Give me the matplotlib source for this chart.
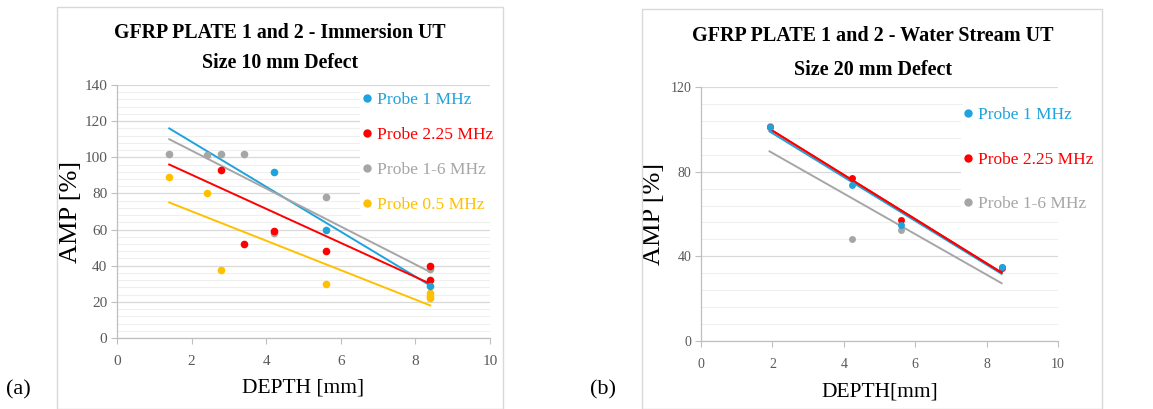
import matplotlib
matplotlib.use("Agg")
import matplotlib.pyplot as plt
import numpy as np
from matplotlib.patches import Rectangle
from matplotlib.lines import Line2D
from matplotlib.ticker import MultipleLocator

plt.rcParams["font.family"] = ["Liberation Serif", "DejaVu Serif"]

C_BLUE = "#1ea3dc"
C_RED = "#ff0000"
C_GRAY = "#a6a6a6"
C_GOLD = "#ffc000"

# ---- panel (a): immersion UT, 10 mm defect ----
a_labels = ["Probe 1 MHz", "Probe 2.25 MHz", "Probe 1-6 MHz", "Probe 0.5 MHz"]
a_colors = [C_BLUE, C_RED, C_GRAY, C_GOLD]
a_x = [
    [4.2, 5.6, 8.4],
    [2.8, 3.4, 4.2, 5.6, 8.4, 8.4],
    [1.4, 2.4, 2.8, 3.4, 4.2, 5.6, 8.4],
    [1.4, 2.4, 2.8, 5.6, 8.4, 8.4, 8.4],
]
a_y = [
    [92, 60, 29],
    [93, 52, 59, 48, 40, 32],
    [102, 101, 102, 102, 58, 78, 38],
    [89, 80, 37.5, 30, 25, 23.5, 22],
]
# trend lines: value at x start and x end
a_trend_x = [1.4, 8.4]
a_trend_y = [[116, 29], [96, 30], [110, 36.5], [75, 18]]

# ---- panel (b): water stream UT, 20 mm defect ----
b_labels = ["Probe 1 MHz", "Probe 2.25 MHz", "Probe 1-6 MHz"]
b_colors = [C_BLUE, C_RED, C_GRAY]
b_x = [
    [1.92, 4.22, 5.6, 8.42],
    [1.92, 4.22, 5.6, 8.42],
    [1.92, 4.22, 5.6, 8.42],
]
b_y = [
    [101, 73.5, 55, 35],
    [101, 77, 57, 34.5],
    [101.5, 48, 52.5, 35],
]
b_trend_x = [1.92, 8.42]
b_trend_y = [[99, 31.7], [100.2, 32.3], [89.6, 27.3]]

W, H = 1153, 409
fig = plt.figure(figsize=(W / 100, H / 100), dpi=100)


def fx(px):
    return px / W


def fy(py):
    return 1 - py / H


# outer boxes
for x0, x1, y0 in [(57, 503, 7), (642, 1102, 9)]:
    fig.patches.append(Rectangle((fx(x0), 0), fx(x1) - fx(x0), fy(y0),
                                 transform=fig.transFigure, fill=False,
                                 edgecolor="#d9d9d9", lw=1.0))


def style_axes(ax, ymax, ymajor, yminor, tick_fs, ypad):
    ax.set_xlim(0, 10)
    ax.set_ylim(0, ymax)
    ax.xaxis.set_major_locator(MultipleLocator(2))
    ax.yaxis.set_major_locator(MultipleLocator(ymajor))
    ax.yaxis.set_minor_locator(MultipleLocator(yminor))
    ax.grid(axis="y", which="major", color="#d9d9d9", lw=0.9)
    ax.grid(axis="y", which="minor", color="#efefef", lw=0.8)
    ax.set_axisbelow(True)
    for s in ["top", "right"]:
        ax.spines[s].set_visible(False)
    for s in ["left", "bottom"]:
        ax.spines[s].set_color("#bfbfbf")
        ax.spines[s].set_linewidth(0.9)
    ax.tick_params(axis="both", which="major", colors="#bfbfbf",
                   labelcolor="#595959", labelsize=tick_fs, length=4, width=0.8)
    ax.tick_params(axis="y", which="minor", length=0)
    ax.tick_params(axis="y", pad=ypad)
    ax.tick_params(axis="x", pad=8)


def legend_for(ax, labels, colors, anchor, fs, spacing):
    handles = [Line2D([], [], ls="none", marker="o", ms=5, color=c) for c in colors]
    leg = ax.legend(handles, labels, loc="upper left",
                    bbox_to_anchor=anchor, bbox_transform=fig.transFigure,
                    frameon=True, facecolor="white", edgecolor="none",
                    fontsize=fs, handlelength=0.4, handletextpad=0.4,
                    labelspacing=spacing, borderpad=0.2, framealpha=1)
    for t, c in zip(leg.get_texts(), colors):
        t.set_color(c)
    return leg


# panel (a)
ax1 = fig.add_axes([fx(117), fy(338), fx(490) - fx(117), fy(85) - fy(338)])
style_axes(ax1, 140, 20, 4, 11, 3)
for xs, ys, ty, c in zip(a_x, a_y, a_trend_y, a_colors):
    ax1.plot(a_trend_x, ty, color=c, lw=1.4, zorder=2)
for xs, ys, c in zip(a_x[::-1], a_y[::-1], a_colors[::-1]):
    ax1.plot(xs, ys, ls="none", marker="o", ms=5.5, color=c, mec="none", zorder=3)
legend_for(ax1, a_labels, a_colors, (fx(351), fy(80)), 12.6, 1.06)
ax1.set_ylabel("AMP [%]", fontsize=19)
ax1.yaxis.set_label_coords(-0.095, 0.5)
ax1.set_xlabel("DEPTH [mm]", fontsize=15.5)
ax1.xaxis.set_label_coords(0.5, -0.16)
fig.text(fx(280), fy(33), "GFRP PLATE 1 and 2 - Immersion UT", ha="center",
         va="center", fontsize=14.3, fontweight="bold")
fig.text(fx(280), fy(63), "Size 10 mm Defect", ha="center",
         va="center", fontsize=14.3, fontweight="bold")
fig.text(fx(6), fy(390), "(a)", ha="left", va="center", fontsize=16)

# panel (b)
ax2 = fig.add_axes([fx(701), fy(341), fx(1058) - fx(701), fy(87) - fy(341)])
style_axes(ax2, 120, 40, 8, 10, 3)
for ty, c in zip(b_trend_y, b_colors):
    ax2.plot(b_trend_x, ty, color=c, lw=1.4, zorder=2)
ax2.plot(b_trend_x, b_trend_y[1], color=C_RED, lw=1.4, zorder=2)
for xs, ys, c in zip(b_x[::-1], b_y[::-1], b_colors[::-1]):
    ax2.plot(xs, ys, ls="none", marker="o", ms=5, color=c, mec="none", zorder=3)
legend_for(ax2, b_labels, b_colors, (fx(952), fy(95)), 12.5, 1.62)
ax2.set_ylabel("AMP [%]", fontsize=19)
ax2.yaxis.set_label_coords(-0.1, 0.5)
ax2.set_xlabel("DEPTH[mm]", fontsize=15.5)
ax2.xaxis.set_label_coords(0.5, -0.165)
fig.text(fx(873), fy(36), "GFRP PLATE 1 and 2 - Water Stream UT", ha="center",
         va="center", fontsize=14.5, fontweight="bold")
fig.text(fx(873), fy(70), "Size 20 mm Defect", ha="center",
         va="center", fontsize=14.5, fontweight="bold")
fig.text(fx(590), fy(390), "(b)", ha="left", va="center", fontsize=16)

fig.savefig("out.png", dpi=100)
